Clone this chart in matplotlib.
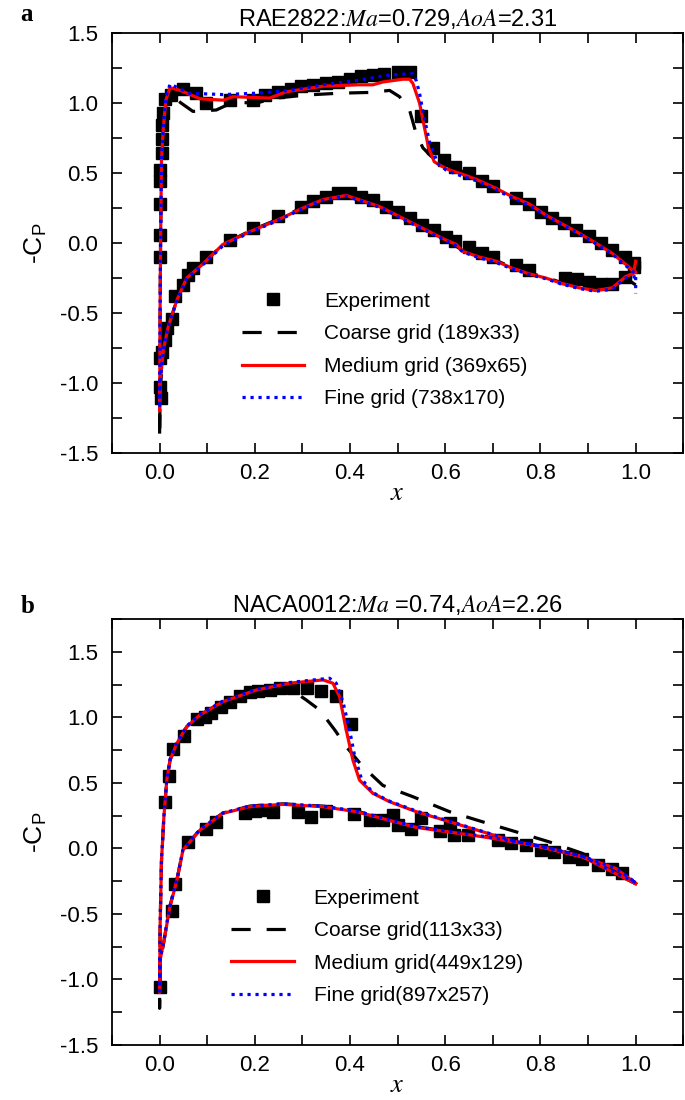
import matplotlib
matplotlib.use("Agg")
import matplotlib.pyplot as plt
from matplotlib.ticker import MultipleLocator

plt.rcParams["font.family"] = ["Liberation Sans", "DejaVu Sans"]
plt.rcParams["mathtext.fontset"] = "stix"
plt.rcParams["axes.unicode_minus"] = False

# ---- panel a: RAE2822 ----
a_exp_x = [0.0, 0.0, 0.0, 0.0, 0.001, 0.004, 0.004, 0.006, 0.007, 0.011,
           0.024, 0.049, 0.076, 0.098, 0.147, 0.196, 0.221, 0.249, 0.277, 0.298,
           0.322, 0.350, 0.374, 0.399, 0.423, 0.448, 0.472, 0.500, 0.525, 0.549,
           0.574, 0.598, 0.621, 0.649, 0.677, 0.701, 0.748, 0.775, 0.801, 0.825,
           0.850, 0.874, 0.901, 0.927, 0.951, 0.978, 0.996,
           0.0, 0.0, 0.002, 0.004, 0.011, 0.015, 0.025, 0.032, 0.049, 0.060,
           0.070, 0.098, 0.147, 0.196, 0.249, 0.298, 0.322, 0.349, 0.374, 0.399,
           0.423, 0.449, 0.476, 0.500, 0.527, 0.551, 0.577, 0.602, 0.621, 0.649,
           0.678, 0.701, 0.748, 0.776, 0.852, 0.876, 0.902, 0.927, 0.951, 0.978,
           0.996]
a_exp_y = [-0.10, 0.06, 0.28, 0.44, 0.52, 0.64, 0.74, 0.84, 0.93, 1.03,
           1.06, 1.10, 1.07, 1.00, 1.02, 1.02, 1.06, 1.08, 1.10, 1.12,
           1.13, 1.14, 1.15, 1.17, 1.19, 1.20, 1.21, 1.22, 1.22, 0.91,
           0.68, 0.59, 0.54, 0.50, 0.44, 0.41, 0.32, 0.28, 0.22, 0.18,
           0.14, 0.09, 0.05, 0.00, -0.05, -0.10, -0.14,
           -0.82, -1.03, -1.11, -0.78, -0.69, -0.61, -0.54, -0.38, -0.30, -0.23,
           -0.18, -0.10, 0.02, 0.11, 0.19, 0.26, 0.30, 0.33, 0.355, 0.355,
           0.33, 0.31, 0.26, 0.22, 0.18, 0.13, 0.09, 0.045, 0.014, -0.026,
           -0.07, -0.10, -0.16, -0.19, -0.25, -0.26, -0.28, -0.29, -0.29, -0.245,
           -0.17]

a_med_x = [1.0, 0.979, 0.951, 0.916, 0.881, 0.846, 0.811, 0.776, 0.741, 0.707,
           0.671, 0.637, 0.623, 0.602, 0.567, 0.532, 0.497, 0.462, 0.392, 0.343,
           0.301, 0.245, 0.189, 0.133, 0.091, 0.057, 0.036, 0.018, 0.008, 0.001,
           0.0, 0.001, 0.002, 0.004, 0.008, 0.013, 0.022, 0.043, 0.085, 0.134,
           0.154, 0.231, 0.266, 0.343, 0.413, 0.448, 0.469, 0.511, 0.525, 0.532,
           0.546, 0.556, 0.565, 0.577, 0.602, 0.637, 0.665, 0.707, 0.741, 0.776,
           0.811, 0.846, 0.881, 0.916, 0.951, 0.982, 0.996, 1.0]
a_med_y = [-0.21, -0.24, -0.32, -0.34, -0.32, -0.29, -0.25, -0.22, -0.18, -0.13,
           -0.10, -0.06, -0.01, 0.02, 0.08, 0.14, 0.20, 0.26, 0.34, 0.31,
           0.25, 0.16, 0.08, -0.01, -0.15, -0.25, -0.41, -0.60, -0.76, -1.00,
           -1.20, -0.50, 0.0, 0.60, 0.83, 1.02, 1.11, 1.09, 1.03, 1.02,
           1.045, 1.035, 1.08, 1.12, 1.13, 1.13, 1.15, 1.17, 1.17, 1.14,
           1.00, 0.83, 0.68, 0.58, 0.53, 0.49, 0.455, 0.39, 0.33, 0.28,
           0.20, 0.135, 0.07, 0.0, -0.075, -0.16, -0.205, -0.13]

a_fine_x = [1.0, 0.979, 0.951, 0.916, 0.881, 0.846, 0.811, 0.776, 0.741, 0.707,
            0.671, 0.637, 0.623, 0.602, 0.567, 0.532, 0.497, 0.462, 0.392, 0.343,
            0.301, 0.245, 0.189, 0.133, 0.091, 0.057, 0.036, 0.018, 0.008, 0.001,
            0.0, 0.001, 0.002, 0.004, 0.008, 0.013, 0.022, 0.062, 0.134, 0.203,
            0.273, 0.343, 0.413, 0.483, 0.532, 0.539, 0.546, 0.553, 0.560, 0.567,
            0.574, 0.584, 0.602, 0.637, 0.665, 0.707, 0.741, 0.776, 0.811, 0.846,
            0.881, 0.916, 0.951, 0.982, 1.0, 1.0]
a_fine_y = [-0.24, -0.25, -0.33, -0.345, -0.325, -0.295, -0.255, -0.225, -0.185, -0.14,
            -0.105, -0.065, -0.02, 0.015, 0.075, 0.135, 0.195, 0.255, 0.335, 0.305,
            0.245, 0.155, 0.075, -0.02, -0.155, -0.255, -0.41, -0.60, -0.76, -1.00,
            -1.18, -0.50, 0.0, 0.60, 0.84, 1.04, 1.135, 1.07, 1.06, 1.07,
            1.09, 1.13, 1.16, 1.20, 1.21, 1.16, 1.07, 0.94, 0.83, 0.72,
            0.66, 0.57, 0.52, 0.475, 0.445, 0.38, 0.32, 0.27, 0.195, 0.13,
            0.065, -0.005, -0.08, -0.17, -0.22, -0.36]

a_coarse_x = [1.0, 0.979, 0.951, 0.916, 0.881, 0.846, 0.811, 0.776, 0.741, 0.707,
              0.671, 0.637, 0.602, 0.567, 0.532, 0.497, 0.462, 0.392, 0.343, 0.301,
              0.245, 0.189, 0.133, 0.091, 0.057, 0.036, 0.018, 0.008, 0.001, 0.0,
              0.001, 0.002, 0.004, 0.008, 0.013, 0.022, 0.045, 0.070, 0.119, 0.154,
              0.203, 0.245, 0.308, 0.378, 0.448, 0.483, 0.504, 0.525, 0.539, 0.553,
              0.570, 0.602, 0.637, 0.665, 0.707, 0.741, 0.776, 0.811, 0.846, 0.881,
              0.916, 0.951, 0.982, 1.0]
a_coarse_y = [-0.30, -0.25, -0.32, -0.335, -0.315, -0.285, -0.245, -0.215, -0.175, -0.125,
              -0.095, -0.055, 0.025, 0.085, 0.145, 0.205, 0.265, 0.345, 0.315, 0.255,
              0.165, 0.085, -0.01, -0.145, -0.25, -0.41, -0.60, -0.78, -1.05, -1.40,
              -0.55, 0.0, 0.55, 0.80, 0.98, 1.06, 1.00, 0.94, 0.95, 1.005,
              1.00, 1.035, 1.057, 1.07, 1.076, 1.09, 1.045, 0.95, 0.78, 0.68,
              0.62, 0.555, 0.51, 0.47, 0.40, 0.34, 0.29, 0.21, 0.145, 0.08,
              0.01, -0.07, -0.155, -0.20]

# ---- panel b: NACA0012 ----
b_exp_x = [0.0, 0.011, 0.020, 0.029, 0.051, 0.078, 0.095, 0.109, 0.130, 0.147,
           0.168, 0.189, 0.207, 0.231, 0.252, 0.280, 0.310, 0.338, 0.371, 0.401,
           0.025, 0.032, 0.060, 0.098, 0.119, 0.179, 0.200, 0.217, 0.238, 0.291,
           0.319, 0.350, 0.409, 0.441, 0.469, 0.490, 0.500, 0.528, 0.549, 0.588,
           0.609, 0.619, 0.647, 0.710, 0.738, 0.769, 0.801, 0.829, 0.860, 0.888,
           0.920, 0.951, 0.972]
b_exp_y = [-1.06, 0.35, 0.55, 0.76, 0.86, 0.99, 1.005, 1.03, 1.08, 1.12,
           1.16, 1.19, 1.20, 1.21, 1.22, 1.22, 1.22, 1.20, 1.16, 0.95,
           -0.48, -0.27, 0.05, 0.15, 0.20, 0.27, 0.285, 0.29, 0.28, 0.28,
           0.24, 0.285, 0.26, 0.22, 0.215, 0.255, 0.18, 0.15, 0.23, 0.135,
           0.195, 0.10, 0.10, 0.063, 0.038, 0.025, -0.013, -0.026, -0.064, -0.084,
           -0.127, -0.16, -0.19]

b_med_x = [1.0, 0.888, 0.783, 0.678, 0.539, 0.413, 0.343, 0.259, 0.189, 0.133,
           0.085, 0.049, 0.038, 0.021, 0.010, 0.001, 0.0, 0.001, 0.004, 0.009,
           0.015, 0.022, 0.036, 0.057, 0.085, 0.133, 0.203, 0.273, 0.343, 0.364,
           0.378, 0.392, 0.406, 0.420, 0.448, 0.483, 0.539, 0.609, 0.678, 0.748,
           0.818, 0.888, 0.958, 1.0]
b_med_y = [-0.27, -0.064, 0.025, 0.089, 0.16, 0.28, 0.318, 0.336, 0.318, 0.267,
           0.14, -0.013, -0.217, -0.458, -0.687, -0.853, -1.10, -0.60, -0.09, 0.24,
           0.52, 0.674, 0.80, 0.928, 1.018, 1.119, 1.208, 1.26, 1.285, 1.26,
           1.157, 0.903, 0.674, 0.52, 0.42, 0.356, 0.28, 0.203, 0.127, 0.05,
           0.0, -0.064, -0.153, -0.267]

b_fine_x = [1.0, 0.888, 0.783, 0.678, 0.539, 0.413, 0.343, 0.259, 0.189, 0.133,
            0.085, 0.049, 0.038, 0.021, 0.010, 0.001, 0.0, 0.001, 0.004, 0.009,
            0.015, 0.022, 0.036, 0.057, 0.085, 0.133, 0.203, 0.273, 0.357, 0.371,
            0.385, 0.399, 0.410, 0.424, 0.448, 0.483, 0.539, 0.609, 0.678, 0.748,
            0.818, 0.888, 0.958, 1.0]
b_fine_y = [-0.26, -0.06, 0.03, 0.093, 0.165, 0.285, 0.322, 0.34, 0.322, 0.27,
            0.145, -0.01, -0.21, -0.45, -0.68, -0.85, -1.09, -0.60, -0.085, 0.245,
            0.525, 0.68, 0.805, 0.933, 1.023, 1.124, 1.213, 1.265, 1.298, 1.26,
            1.12, 0.903, 0.70, 0.53, 0.425, 0.36, 0.285, 0.207, 0.13, 0.053,
            0.003, -0.06, -0.15, -0.26]

b_coarse_x = [1.0, 0.888, 0.783, 0.678, 0.539, 0.413, 0.343, 0.259, 0.189, 0.133,
              0.085, 0.049, 0.038, 0.021, 0.010, 0.001, 0.0, 0.001, 0.004, 0.009,
              0.015, 0.022, 0.036, 0.057, 0.085, 0.133, 0.203, 0.273, 0.308, 0.336,
              0.368, 0.392, 0.427, 0.469, 0.532, 0.609, 0.678, 0.748, 0.818, 0.888,
              0.930, 1.0]
b_coarse_y = [-0.27, -0.06, 0.03, 0.095, 0.165, 0.285, 0.322, 0.34, 0.322, 0.27,
              0.145, -0.01, -0.21, -0.45, -0.69, -0.88, -1.22, -0.60, -0.09, 0.24,
              0.52, 0.674, 0.80, 0.928, 1.018, 1.119, 1.205, 1.22, 1.132, 1.056,
              0.903, 0.776, 0.623, 0.48, 0.394, 0.28, 0.203, 0.127, 0.05, -0.038,
              -0.115, -0.267]


def draw_panel(ax, exp_x, exp_y, coarse, medium, fine, labels, title, ylim):
    ax.plot(exp_x, exp_y, "s", color="black", ms=8, label=labels[0], zorder=2)
    ax.plot(coarse[0], coarse[1], color="black", lw=2.3, dashes=(6, 5),
            label=labels[1], zorder=3)
    ax.plot(medium[0], medium[1], color="red", lw=2.3, label=labels[2], zorder=4)
    ax.plot(fine[0], fine[1], color="blue", lw=2.3, linestyle=(0, (1, 1.5)),
            label=labels[3], zorder=5)
    ax.set_xlim(-0.1, 1.1)
    ax.set_ylim(*ylim)
    ax.xaxis.set_major_locator(MultipleLocator(0.2))
    ax.xaxis.set_minor_locator(MultipleLocator(0.1))
    ax.yaxis.set_major_locator(MultipleLocator(0.5))
    ax.yaxis.set_minor_locator(MultipleLocator(0.25))
    ax.tick_params(which="both", direction="in", top=True, right=True,
                   width=1.2, length=7, labelsize=16)
    ax.tick_params(axis="x", which="both", pad=7)
    ax.tick_params(axis="y", which="both", pad=10)
    for s in ax.spines.values():
        s.set_linewidth(1.3)
    ax.set_title(title, fontsize=17, pad=5)
    ax.set_xlabel("$x$", fontsize=19, labelpad=-2)
    ax.set_ylabel(r"-$\mathregular{C_P}$", fontsize=19, labelpad=8)


fig = plt.figure(figsize=(6.85, 11), dpi=100)
ax1 = fig.add_axes([0.1635, 0.5882, 0.834, 0.3818])
ax2 = fig.add_axes([0.1635, 0.05, 0.834, 0.3873])

draw_panel(ax1, a_exp_x, a_exp_y, (a_coarse_x, a_coarse_y), (a_med_x, a_med_y),
           (a_fine_x, a_fine_y),
           ["Experiment", "Coarse grid (189x33)", "Medium grid (369x65)",
            "Fine grid (738x170)"],
           r"RAE2822:$\mathit{Ma}$=0.729,$\mathit{AoA}$=2.31", (-1.5, 1.5))
draw_panel(ax2, b_exp_x, b_exp_y, (b_coarse_x, b_coarse_y), (b_med_x, b_med_y),
           (b_fine_x, b_fine_y),
           ["Experiment", "Coarse grid(113x33)", "Medium grid(449x129)",
            "Fine grid(897x257)"],
           r"NACA0012:$\mathit{Ma}$ =0.74,$\mathit{AoA}$=2.26", (-1.5, 1.75))

for ax, anchor in [(ax1, (0.227, 0.245)), (ax2, (0.209, 0.23))]:
    ax.legend(loc="center left", bbox_to_anchor=anchor, frameon=False,
              fontsize=15, handlelength=3.0, handletextpad=0.95, labelspacing=0.65,
              borderpad=0, borderaxespad=0, numpoints=1)

fig.text(0.03, 0.987, "a", family="Liberation Serif", weight="bold", fontsize=18,
         va="center")
fig.text(0.03, 0.449, "b", family="Liberation Serif", weight="bold", fontsize=18,
         va="center")

fig.savefig("out.png", dpi=100)
